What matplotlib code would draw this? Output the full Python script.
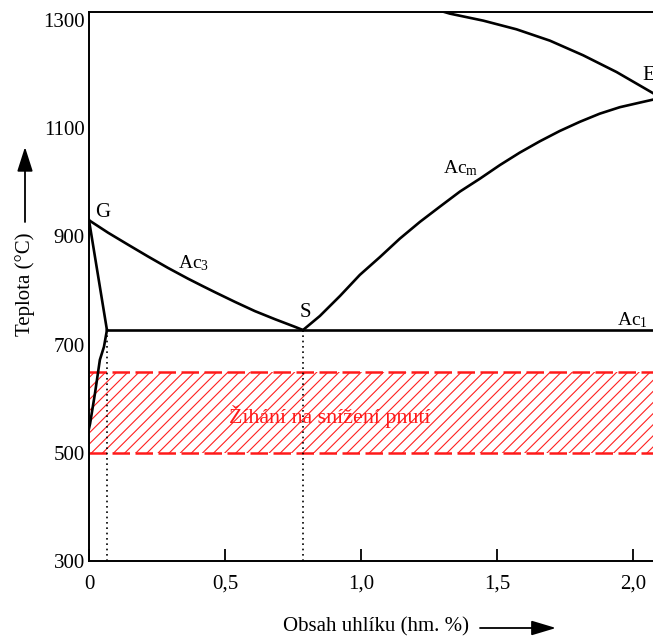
import matplotlib
matplotlib.use("Agg")
import matplotlib.pyplot as plt

plt.rcParams['font.family'] = ['Liberation Serif', 'DejaVu Serif']
plt.rcParams['mathtext.fontset'] = 'custom'
plt.rcParams['mathtext.rm'] = 'Liberation Serif'
plt.rcParams['mathtext.it'] = 'Liberation Serif:italic'
plt.rcParams['hatch.linewidth'] = 0.8

# ---- data (carbon wt.% , temperature °C) ----
gs_x = [0.0, 0.070, 0.143, 0.217, 0.290, 0.364, 0.419, 0.463, 0.537, 0.610, 0.684, 0.757, 0.787]
gs_t = [930, 907, 885, 863, 842, 822, 808, 797, 779, 762, 747, 733, 727]

gp_x = [0.0, 0.066]
gp_t = [930, 727]

pq_x = [0.066, 0.055, 0.040, 0.022, 0.004, 0.0]
pq_t = [727, 696, 672, 610, 554, 545]

acm_x = [0.787, 0.849, 0.923, 0.996, 1.070, 1.143, 1.217, 1.290, 1.364, 1.438,
         1.511, 1.584, 1.658, 1.731, 1.805, 1.878, 1.952, 2.030, 2.074]
acm_t = [727, 753, 790, 829, 862, 896, 927, 955, 983, 1007,
         1032, 1055, 1076, 1095, 1112, 1127, 1139, 1148, 1153]

sol_x = [1.300, 1.327, 1.450, 1.572, 1.695, 1.817, 1.940, 2.074]
sol_t = [1316, 1312, 1299, 1283, 1262, 1235, 1204, 1165]

ac1_x = [0.066, 2.074]
ac1_t = [727, 727]

p_x = 0.066
s_x = 0.787
ac1_temp = 727

band_low = 500
band_high = 650

xticks = [0, 0.5, 1.0, 1.5, 2.0]
xticklabels = ['0', '0,5', '1,0', '1,5', '2,0']
yticks = [300, 500, 700, 900, 1100, 1300]
yticklabels = ['300', '500', '700', '900', '1100', '1300']

W, H = 653, 637
fig = plt.figure(figsize=(W / 100, H / 100), dpi=100)
ax = fig.add_axes([89 / W, 1 - 561 / H, 1 - 89 / W, (561 - 12) / H])
ax.set_xlim(0, 2.074)
ax.set_ylim(300, 1315)

# hatched band
ax.fill_between([0, 2.074], band_low, band_high, facecolor='none', edgecolor='#ff2020',
                hatch='///', linewidth=0, zorder=1)
for yv in (band_low, band_high):
    ln, = ax.plot([0, 2.074], [yv, yv], color='#ff1a1a', lw=1.8, zorder=2)
    ln.set_dashes((7, 2.2))

lw = 1.9
ax.plot(gs_x, gs_t, color='black', lw=lw, solid_joinstyle='round', zorder=4)
ax.plot(gp_x, gp_t, color='black', lw=lw, zorder=4)
ax.plot(pq_x, pq_t, color='black', lw=lw, solid_joinstyle='round', zorder=4)
ax.plot(acm_x, acm_t, color='black', lw=lw, solid_joinstyle='round', zorder=4)
ax.plot(sol_x, sol_t, color='black', lw=lw, solid_joinstyle='round', zorder=4)
ax.plot(ac1_x, ac1_t, color='black', lw=lw, zorder=4)

# dotted verticals
ax.plot([p_x, p_x], [300, ac1_temp], color='black', lw=1.2, ls=(0, (1, 2.2)), zorder=3)
ax.plot([s_x, s_x], [300, ac1_temp], color='black', lw=1.2, ls=(0, (1, 2.2)), zorder=3)

# labels on diagram
fs = 15
ax.text(0.022, 936, 'G', fontsize=fs, va='baseline', ha='left')
ax.text(0.776, 752, 'S', fontsize=fs, va='baseline', ha='left')
ax.text(2.035, 1197, 'E', fontsize=fs, va='center', ha='left', clip_on=False)
ax.text(0.327, 842, r'Ac$_{3}$', fontsize=14, va='baseline', ha='left')
ax.text(1.303, 1017, r'Ac$_{\mathrm{m}}$', fontsize=14, va='baseline', ha='left')
ax.text(1.94, 735, r'Ac$_{1}$', fontsize=14, va='baseline', ha='left')
ax.text(0.515, 568, 'Žíhání na snížení pnutí', fontsize=15.8, color='#ff1a1a',
        va='center', ha='left', zorder=5)

# axes styling
ax.spines['right'].set_visible(False)
for sp in ('left', 'top', 'bottom'):
    ax.spines[sp].set_linewidth(1.4)
ax.set_xticks(xticks)
ax.set_xticklabels(xticklabels)
ax.set_yticks(yticks)
ax.set_yticklabels(yticklabels)
ax.tick_params(axis='x', direction='in', length=8.5, width=1.3, pad=10, labelsize=15)
ax.tick_params(axis='y', length=0, pad=3, labelsize=15)

# axis titles with arrows
fig.text(25 / W, 1 - 284 / H, 'Teplota (°C)', rotation=90, fontsize=15, ha='center', va='center')
fig.text(376 / W, 1 - 627 / H, 'Obsah uhlíku (hm. %)', fontsize=15, ha='center', va='center')
ax.annotate('', xy=(25 / W, 1 - 147 / H), xytext=(25 / W, 1 - 222 / H),
            xycoords='figure fraction', textcoords='figure fraction',
            arrowprops=dict(arrowstyle='-|>,head_length=1.0,head_width=0.32', color='black',
                            lw=1.3, shrinkA=0, shrinkB=0, mutation_scale=15))
ax.annotate('', xy=(556 / W, 1 - 628 / H), xytext=(480 / W, 1 - 628 / H),
            xycoords='figure fraction', textcoords='figure fraction',
            arrowprops=dict(arrowstyle='-|>,head_length=1.0,head_width=0.3', color='black',
                            lw=1.3, shrinkA=0, shrinkB=0, mutation_scale=15))

fig.savefig('out.png', dpi=100)
